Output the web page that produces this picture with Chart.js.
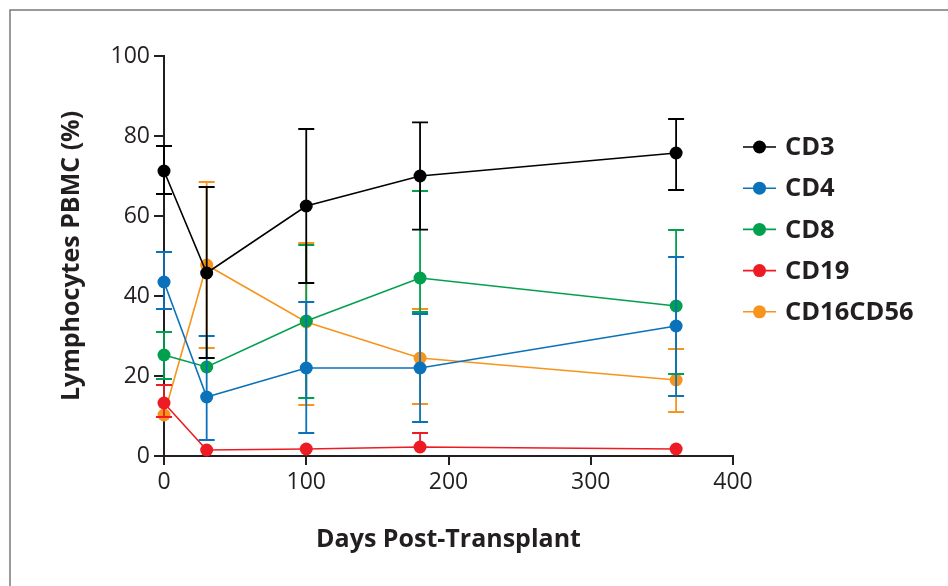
<!DOCTYPE html>
<html lang="en">
<head>
  <meta charset="UTF-8" />
  <title>Lymphocytes PBMC</title>
  <style>
    html, body { margin: 0; padding: 0; background: #fff; }
    #wrap { width: 948px; height: 586px; position: relative; }
  </style>
</head>
<body>
  <div id="wrap"><canvas id="myChart" width="948" height="586"></canvas></div>

  <script src="https://cdn.jsdelivr.net/npm/chart.js"></script>
  <script>
    // data
    const days = [0, 30, 100, 180, 360];
    const seriesNames = ['CD3', 'CD4', 'CD8', 'CD19', 'CD16CD56'];
    const seriesColors = ['#000000', '#0a72ba', '#00a04f', '#ed1c24', '#f7941d'];

    const cd3 = [71.25, 45.75, 62.5, 70, 75.75];
    const cd4 = [43.5, 14.75, 22, 22, 32.5];
    const cd8 = [25.25, 22.25, 33.75, 44.5, 37.5];
    const cd19 = [13.25, 1.5, 1.75, 2.25, 1.75];
    const cd16cd56 = [10.25, 47.75, 33.5, 24.5, 19];

    // error bars (upper / lower extent)
    const cd3Up = [6.25, 21.5, 19.25, 13.4, 8.5];
    const cd3Down = [5.75, 21.25, 19.25, 13.4, 9.25];
    const cd4Up = [7.5, 15.25, 16.5, 13.5, 17.25];
    const cd4Down = [6.75, 10.75, 16.25, 13.5, 17.5];
    const cd8Up = [5.75, 0, 19, 21.75, 19];
    const cd8Down = [6, 0, 19.25, 8.5, 17];
    const cd19Up = [4.5, 0, 0, 3.5, 0];
    const cd19Down = [3.5, 0, 0, 0, 0];
    const cd16Up = [0, 20.75, 19.75, 12.25, 7.75];
    const cd16Down = [0, 20.75, 20.75, 11.5, 8];

    const xTicks = [0, 100, 200, 300, 400];
    const yTicks = [0, 20, 40, 60, 80, 100];

    const values = [cd3, cd4, cd8, cd19, cd16cd56];
    const ups = [cd3Up, cd4Up, cd8Up, cd19Up, cd16Up];
    const downs = [cd3Down, cd4Down, cd8Down, cd19Down, cd16Down];

    const FONT = "'Open Sans', 'Noto Sans', sans-serif";
    const AXIS = '#231f20';

    const datasets = seriesNames.map((name, s) => ({
      label: name,
      data: days.map((d, i) => ({ x: d, y: values[s][i] })),
      errUp: ups[s],
      errDown: downs[s],
      borderColor: seriesColors[s],
      backgroundColor: seriesColors[s],
      pointBackgroundColor: seriesColors[s],
      pointBorderColor: seriesColors[s],
      borderWidth: 1.6,
      pointRadius: 6.5,
      pointBorderWidth: 0,
      tension: 0,
      clip: false
    }));

    // error bars drawn under each dataset's own line and markers
    const errorBars = {
      id: 'errorBars',
      beforeDatasetDraw(chart, args) {
        const ds = chart.data.datasets[args.index];
        const { ctx, scales } = chart;
        ctx.save();
        ctx.strokeStyle = ds.borderColor;
        ctx.lineWidth = 1.8;
        ds.data.forEach((p, i) => {
          const up = ds.errUp[i], down = ds.errDown[i];
          if (!up && !down) return;
          const x = scales.x.getPixelForValue(p.x);
          const yTop = scales.y.getPixelForValue(p.y + up);
          const yBot = scales.y.getPixelForValue(p.y - down);
          ctx.beginPath();
          ctx.moveTo(x, yTop); ctx.lineTo(x, yBot);
          if (up) { ctx.moveTo(x - 8, yTop); ctx.lineTo(x + 8, yTop); }
          if (down) { ctx.moveTo(x - 8, yBot); ctx.lineTo(x + 8, yBot); }
          ctx.stroke();
        });
        ctx.restore();
      }
    };

    // outer frame + legend on the right
    const decor = {
      id: 'decor',
      beforeDraw(chart) {
        const ctx = chart.ctx;
        ctx.save();
        ctx.strokeStyle = '#7a7a7a';
        ctx.lineWidth = 1.5;
        ctx.beginPath();
        ctx.moveTo(10, 586); ctx.lineTo(10, 10); ctx.lineTo(948, 10);
        ctx.stroke();
        ctx.restore();
      },
      afterDraw(chart) {
        const ctx = chart.ctx;
        ctx.save();
        ctx.font = "bold 25.5px " + FONT;
        ctx.textBaseline = 'middle';
        chart.data.datasets.forEach((ds, i) => {
          const y = 147 + i * 41.2;
          ctx.strokeStyle = ds.borderColor;
          ctx.lineWidth = 1.6;
          ctx.beginPath();
          ctx.moveTo(743, y); ctx.lineTo(776, y);
          ctx.stroke();
          ctx.fillStyle = ds.borderColor;
          ctx.beginPath();
          ctx.arc(759.5, y, 6.5, 0, Math.PI * 2);
          ctx.fill();
          ctx.fillStyle = '#231f20';
          ctx.fillText(ds.label, 785, y + 1);
        });
        ctx.restore();
      }
    };

    new Chart(document.getElementById('myChart'), {
      type: 'line',
      data: { datasets },
      options: {
        responsive: false,
        animation: false,
        layout: { padding: { top: 56, right: 215, bottom: 31, left: 57 } },
        plugins: { legend: { display: false }, tooltip: { enabled: false } },
        scales: {
          x: {
            type: 'linear',
            min: 0, max: 400,
            afterBuildTicks: (scale) => { scale.ticks = xTicks.map(v => ({ value: v })); },
            afterFit: (scale) => { scale.height = 586 - 31 - 456; },
            grid: { drawOnChartArea: false, drawTicks: true, tickLength: 9, color: AXIS, lineWidth: 2 },
            border: { color: AXIS, width: 2 },
            ticks: { color: AXIS, padding: 4, font: { family: FONT, size: 23 } },
            title: {
              display: true, text: 'Days Post-Transplant', color: AXIS,
              padding: 0, font: { family: FONT, size: 25, weight: 'bold' }
            }
          },
          y: {
            min: 0, max: 100,
            afterBuildTicks: (scale) => { scale.ticks = yTicks.map(v => ({ value: v })); },
            afterFit: (scale) => { scale.width = 164 - 57; },
            grid: { drawOnChartArea: false, drawTicks: true, tickLength: 10, color: AXIS, lineWidth: 2 },
            border: { color: AXIS, width: 2 },
            ticks: { color: AXIS, padding: 4, font: { family: FONT, size: 23 } },
            title: {
              display: true, text: 'Lymphocytes PBMC (%)', color: AXIS,
              padding: 0, font: { family: FONT, size: 25, weight: 'bold' }
            }
          }
        }
      },
      plugins: [errorBars, decor]
    });
  </script>
</body>
</html>
